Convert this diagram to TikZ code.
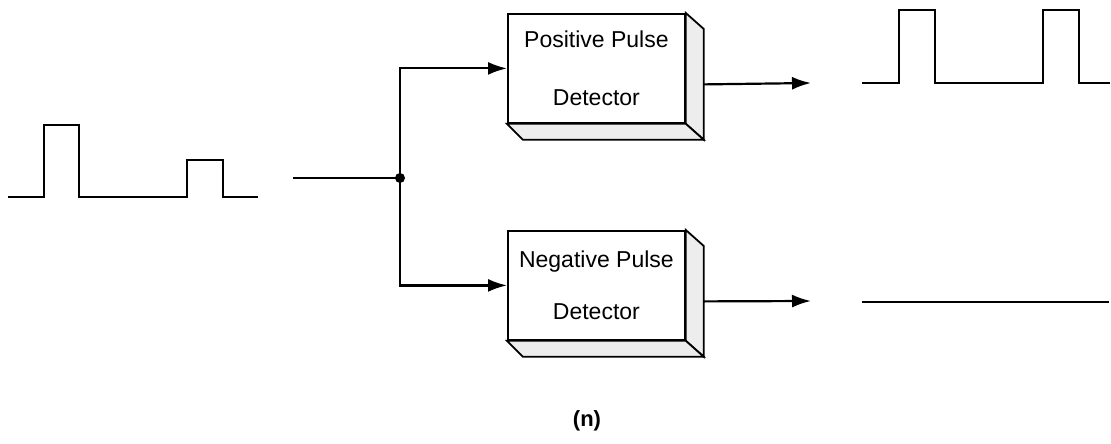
\documentclass[tikz,border=0pt]{standalone}
\usepackage{fontspec}
\setmainfont{Liberation Sans}
\usetikzlibrary{arrows.meta}
\begin{document}
\begin{tikzpicture}[x=1pt,y=-1pt,
  wire/.style={line width=2.2pt},
  sig/.style={line width=2.2pt,line join=miter},
  arr/.style={wire,-{Latex[length=19pt,width=13pt]}},
  detbox/.style={draw,line width=1.8pt,fill=white,minimum width=177pt,minimum height=109pt,
    inner sep=0pt,align=center,anchor=north west},
  face/.style={draw,line width=1.8pt,fill=gray!14,line join=miter}]
\useasboundingbox (0,0) rectangle (1111,444);

% detector blocks with their shaded right and bottom faces
\node[detbox,font=\fontsize{23}{58}\selectfont] (pos) at (507,13) {Positive Pulse\\Detector};
\node[detbox,font=\fontsize{23}{52}\selectfont] (neg) at (507,230) {Negative Pulse\\Detector};
\foreach \b in {pos,neg}{
  \draw[face] (\b.north east) -- ++(18,16) -- ([shift={(18,16)}]\b.south east) -- (\b.south east) -- cycle;
  \draw[face] (\b.south west) -- (\b.south east) -- ++(18,16) -- ([shift={(16,16)}]\b.south west) -- cycle;
}

% input pulse train
\draw[sig] (8,197) -- (44,197) -- (44,125) -- (79,125) -- (79,197) -- (187,197)
  -- (187,160) -- (223,160) -- (223,197) -- (258,197);

% splitter
\coordinate (in) at (293,178);
\coordinate (j) at (400,178);
\draw[wire] (in) -- (j);
\draw[arr] (j) |- (pos.west);
\draw[arr] (j) |- (neg.west);
\fill (j) circle (5pt);

% outputs
\coordinate (o1) at (811,83);
\coordinate (o2) at (811,301);
\draw[arr] ([shift={(18,16)}]pos.east) -- (o1);
\draw[arr] ([shift={(18,16)}]neg.east) -- (o2);

% output waveforms
\draw[sig] (862,83) -- (899,83) -- (899,10) -- (935,10) -- (935,83) -- (1043,83)
  -- (1043,10) -- (1079,10) -- (1079,83) -- (1110,83);
\draw[sig] (862,302) -- (1109,302);

% caption
\node[font=\fontsize{22}{26}\selectfont\bfseries] (cap) at (587,421) {(n)};
\end{tikzpicture}
\end{document}
